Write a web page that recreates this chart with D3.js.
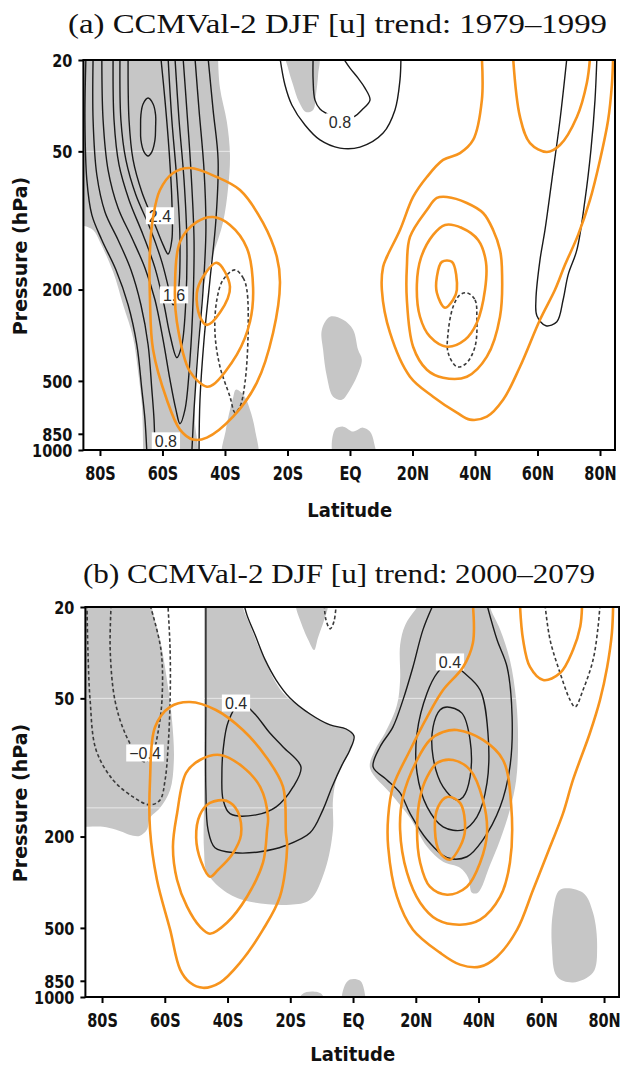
<!DOCTYPE html>
<html>
<head>
<meta charset="utf-8">
<script src="https://cdn.jsdelivr.net/npm/d3@7"></script>
<style>
  body { margin: 0; background: #fff; }
  svg { display: block; }
</style>
</head>
<body>
<svg id="fig" width="620" height="1066"></svg>
<script>
// ---- axes ----
const latTicks = [-80, -60, -40, -20, 0, 20, 40, 60, 80];
const latTickLabels = ["80S", "60S", "40S", "20S", "EQ", "20N", "40N", "60N", "80N"];
const presTicks = [20, 50, 200, 500, 850, 1000];
const latDomain = [-85.3, 84.8];
const presDomain = [20, 1000];

// ---- panel (a) 1979-1999 ----
// shaded areas: trend significant (polygons of [lat, hPa])
const shadeA = [
  [[-88.6,18],[-42.2,18],[-42.2,20],[-41.6,26.5],[-39.4,37.2],[-38.4,51.9],[-39.0,72.2],[-40.6,101.5],[-43.8,141],[-47.0,197],[-48.0,276],[-49.0,385],[-49.6,535],[-49.6,752],[-49.6,1100],[-66.2,1100],[-66.2,975],[-66.6,635],[-67.8,456],[-69.4,324],[-72.6,233],[-75.8,167.5],[-80,124],[-82.2,110],[-85.1,105.6],[-88.6,105.6]],
  [[-36.5,546],[-33.9,580],[-32.0,667],[-30.4,815],[-29.8,1100],[-40.6,1100],[-39.7,815],[-38.4,667],[-37.4,592]],
  [[-20.5,19],[-10.2,19],[-10.2,23.2],[-10.9,28.4],[-11.8,33],[-14.1,33.7],[-16.3,30.5],[-18.2,25.7],[-19.8,21.7]],
  [[-6.4,262.7],[-2.2,270.7],[1.0,299],[2.6,366],[3.8,404],[2.2,479],[0,546],[-2.6,604],[-5.4,586],[-7.4,479],[-8.6,366],[-9.0,299]],
  [[-4.8,815],[-2.2,791],[1.0,831],[4.2,799],[6.4,831],[7.7,930],[8.0,1100],[-4.8,1100]]
];
// [u] trend contours (m/s per decade); negative levels dashed
const trendA = [
  {level: 0.4, pts: [[-84.5,19.6],[-84.8,36.5],[-84.2,66.7],[-82.6,94.6],[-79.4,121.6],[-74.9,164],[-71.0,233],[-68.2,348],[-66.6,546],[-65.6,737],[-65.0,1020]]},
  {level: 0.4, pts: [[-45.4,19.6],[-43.8,33],[-42.2,54.5],[-42.9,99.5],[-44.8,181.4],[-46.7,331],[-48.0,604],[-48.3,1020]]},
  {level: 0.8, pts: [[-82.2,19.6],[-82.2,36.5],[-81.0,63.4],[-78.4,91.8],[-74.2,121.6],[-70.1,164],[-66.9,233],[-64.6,348],[-63.4,546],[-62.7,737],[-62.4,1020]]},
  {level: 0.8, pts: [[-49.6,19.6],[-48.3,33],[-46.7,60.3],[-46.1,110],[-47.0,200.5],[-48.6,366],[-49.9,667],[-50.6,1020]]},
  {level: 1.2, pts: [[-79.4,19.6],[-79.0,36.5],[-77.4,60.3],[-74.2,88.2],[-69.8,119],[-65.6,161],[-62.4,221.6],[-59.8,331],[-57.6,494],[-55.7,667],[-54.4,768],[-52.8,667],[-51.2,404],[-50.2,221.6],[-49.9,121.6],[-50.9,60.3],[-52.2,33],[-53.4,19.6]]},
  {level: 1.6, pts: [[-75.8,19.6],[-75.5,36.5],[-73.9,57.3],[-70.7,81.4],[-66.2,115.6],[-62.4,160.9],[-59.5,233],[-57.6,314.6],[-55.4,396],[-53.8,348],[-52.5,221.6],[-52.2,121.6],[-53.1,66.7],[-54.7,36.5],[-56.0,19.6]]},
  {level: 2.0, pts: [[-73.6,19.6],[-73.3,36.5],[-71.7,54.5],[-68.5,77.5],[-64.0,107.8],[-60.2,151.5],[-57.9,200.5],[-56.6,233],[-55.0,204.6],[-54.4,121.6],[-55.4,66.7],[-57.0,36.5],[-58.2,19.6]]},
  {level: 2.4, pts: [[-71.0,19.6],[-70.7,36.5],[-69.4,54.5],[-66.6,75.2],[-63.0,99.5],[-59.8,127.8],[-58.2,140],[-57.0,121.6],[-57.0,81.4],[-57.9,49.3],[-59.2,29.9],[-60.5,19.6]]},
  {level: 2.8, closed: true, pts: [[-64.6,29.3],[-63.0,31.1],[-62.2,34.7],[-62.2,39.2],[-62.4,44.6],[-63.4,50.3],[-64.6,52.4],[-65.9,50.3],[-66.9,44.6],[-67.0,39.2],[-66.9,34.7],[-66.2,31.1]]},
  {level: 0.4, pts: [[-22.4,19.6],[-20.8,25.7],[-18.6,31.4],[-14.4,38.4],[-9.6,44.6],[-3.2,48.4],[3.2,47.9],[10.6,41.6],[14.4,33],[16.0,24.4],[16.3,19.6]]},
  {level: 0.8, pts: [[-11.8,19.6],[-11.8,24.4],[-11.2,29.9],[-9.6,32.7],[-7.4,34.3],[-3.2,36.8],[1.6,35.1],[3.8,33],[6.4,29.9],[4.8,26.5],[2.6,24.0],[0,21.7],[-2.2,19.6]]},
  {level: 0.4, pts: [[69.4,19.6],[67.2,36.5],[64.6,66.7],[62.4,110],[60.8,148.5],[59.5,221.6],[59.8,260],[62.7,287.5],[66.2,276.2],[68.2,221.6],[69.8,172.6],[72.6,134.4],[75.2,81.4],[77.1,49.3],[78.4,29.9],[79.0,19.6]]},
  {level: -0.4, closed: true, pts: [[-36.8,164.1],[-34.2,177.8],[-33.0,200.5],[-32.6,308.4],[-33.6,509],[-35.2,647.4],[-36.8,687.5],[-38.4,585.7],[-41.6,433.6],[-43.2,308.4],[-42.6,221.6],[-40.6,181.4]]},
  {level: -0.4, closed: true, pts: [[37.4,206.6],[40.0,221.6],[40.6,262.7],[40.0,354.8],[37.1,420.7],[34.2,433.6],[31.4,376.8],[31.4,308.4],[33.0,237.7],[35.2,210.8]]}
];
const labelsA = [
  {level: 2.4, at: [-60.8, 95.4]},
  {level: 1.6, at: [-56.3, 211]},
  {level: 0.8, at: [-58.9, 912]},
  {level: 0.8, at: [-3.2, 37.2]}
];
// climatological jets (orange)
const jetA = [
  {closed: true, pts: [[-42.6,153],[-38.4,194.6],[-41.6,252],[-45.8,285],[-48,263],[-49,207],[-47,176]]},
  {closed: true, pts: [[-43.8,96.6],[-38.4,104.6],[-33.0,131.7],[-31.0,196.6],[-32.0,276.2],[-36.2,384.5],[-43.8,519.4],[-45.8,529.9],[-51.2,455.9],[-55.4,276.2],[-56.0,196.6],[-54.4,124],[-49.0,101.5]]},
  {closed: true, pts: [[-51.2,59.1],[-42.6,64.7],[-35.2,73.7],[-27.8,102.5],[-23.4,144.1],[-22.4,187],[-24.6,308.4],[-29.8,509],[-37.4,715.6],[-45.8,883],[-50.2,901],[-54.4,815],[-58.6,604],[-63.0,366],[-64.0,221.6],[-64.0,134.4],[-63.0,96.6],[-60.8,73.7],[-56.6,62.1]]},
  {closed: true, pts: [[29.4,151.5],[32.6,151.5],[34.2,200.5],[33.0,221.6],[30.4,240.1],[27.8,206.6],[27.8,176.1]]},
  {closed: true, pts: [[30.4,104.6],[35.8,107.8],[41.0,121.6],[43.5,151.5],[43.2,200.5],[40.6,279],[36.8,330.8],[31.0,354.8],[25.6,321],[22.4,262.7],[21.4,190.7],[22.7,145.6],[26.6,115.6]]},
  {closed: true, pts: [[31.0,79],[37.4,83.9],[42.6,92.8],[45.8,110],[48.0,134.4],[48.6,159.3],[48.0,262.7],[43.8,392.2],[37.4,479.4],[29.8,484.2],[24.6,446.9],[20.2,354.8],[18.2,221.6],[18.2,159.3],[19.2,118],[24.6,90],[27.8,79.8]]},
  {closed: false, pts: [[42.2,19.6],[42.2,29.9],[39.4,44.6],[35.2,50.9],[29.8,54.5],[24.6,64.7],[20.2,79],[16.0,110],[11.8,144.1],[10.6,159.3],[10.2,200.5],[12.8,308.4],[19.2,479.4],[26.6,585.7],[34.2,687.5],[38.4,737.4],[43.8,715.6],[49.0,604],[54.4,433.6],[60.8,270.7],[65.6,200.5],[68.8,156.1],[73.0,115.6],[76.8,81.4],[80.0,54.5],[82.6,36.5],[83.8,25.7],[84.2,19.6]]},
  {closed: false, pts: [[52.2,19.6],[54.4,35.4],[57.6,46],[63.0,50.3],[67.2,46.9],[72.6,35.4],[75.8,25.1],[76.8,19.6]]}
];

// ---- panel (b) 2000-2079 ----
const shadeB = [
  [[-88.6,18.1],[-64.1,18.1],[-64.1,20],[-61.5,27.8],[-59.3,41.6],[-57.7,62.1],[-57.1,92.8],[-58.3,125.3],[-61.5,150],[-64.7,166],[-65.7,187],[-67.9,198.5],[-70.1,198.5],[-75.5,187],[-79.7,181.4],[-84.5,181.4],[-88.6,181.4]],
  [[-46.9,18.1],[-35.1,18.1],[-35.1,20],[-32.8,24.0],[-29.6,30.8],[-22.3,47.4],[-13.7,58],[-7.3,65.3],[-2.5,67.3],[0,70.8],[-1.0,83.9],[-5.1,110],[-6.4,138.5],[-6.4,187],[-8.9,279],[-13.7,376.8],[-20.1,396.2],[-32.8,384.5],[-40.2,351],[-46.5,287.5],[-47.5,228.4],[-47.5,138.5],[-47.5,50.9],[-47.5,20],[-47.5,18.1]],
  [[-18.2,18.6],[-8.0,18.6],[-8.0,20],[-9.2,22.8],[-11.2,27.3],[-12.4,30.8],[-14.3,27.8],[-16.9,22.8],[-18.2,20]],
  [[22.9,18.6],[43.7,18.6],[43.7,20],[46.9,25.1],[50.0,34.0],[52.0,50.9],[52.6,75.9],[52.0,113.3],[50.0,153],[46.9,206.6],[43.7,265.3],[39.8,351],[37.9,351],[36.7,302],[34.1,273.4],[28.7,257.5],[23.6,221.6],[18.2,166],[12.4,131.7],[5.4,100.5],[7.0,83.9],[10.2,70.8],[14.0,53.5],[15.0,41.6],[15.0,29.3],[16.6,24],[19.8,20.6]],
  [[66.0,341],[73.3,351],[76.5,429],[77.8,604],[76.5,783],[70.1,865],[65.0,815],[63.4,604],[63.7,429]],
  [[-3.2,1100],[-2.9,909],[-1.0,840],[2.2,848],[3.5,928],[3.5,1100]],
  [[-17.5,1100],[-16.3,975],[-13.1,947],[-9.9,975],[-9.2,1100]]
];
const trendB = [
  {level: 0.2, pts: [[-46.9,19.6],[-46.9,50.9],[-46.9,125.3],[-46.2,187],[-44.0,223.8],[-37.6,235.3],[-29.6,233],[-21.7,219.4],[-13.7,192.7],[-9.6,153],[-6.7,121.6],[-3.5,97.5],[-1.0,83.9],[0.3,72.9],[-2.2,68],[-7.3,65.3],[-13.7,58.5],[-20.1,49.8],[-24.5,41.6],[-28.0,34.0],[-31.2,26.5],[-33.8,21.7],[-34.7,19.6]]},
  {level: 0.4, closed: true, pts: [[-36.0,52.4],[-31.9,57.3],[-26.5,70.8],[-22.3,81.4],[-16.6,99.5],[-19.1,121.6],[-24.5,148.5],[-30.9,160.9],[-39.2,159],[-41.4,138.5],[-41.8,107.8],[-41.4,83.9],[-39.8,63.4]]},
  {level: 0.2, pts: [[25.5,19.6],[22.3,25.1],[19.1,36.5],[15.9,50.9],[12.7,66.7],[8.6,81.4],[6.4,99.5],[10.8,113.3],[15.0,129.1],[18.2,159],[23.6,206.6],[30.0,247.4],[36.3,244.9],[41.4,206.6],[46.9,148.5],[50.0,99.5],[50.7,60.3],[49.1,36.5],[45.9,27.8],[42.7,19.6]]},
  {level: 0.4, closed: true, pts: [[30.9,34.7],[35.1,38.4],[40.5,46],[43.0,70.8],[42.7,116.8],[39.5,164.1],[35.1,187],[28.7,181.4],[23.6,148.5],[20.4,105.6],[20.4,70.8],[23.6,47.4],[26.8,38.8]]},
  {level: 0.6, closed: true, pts: [[30.0,54.5],[34.7,58],[37.3,75.9],[37.3,110],[35.1,134.4],[33.1,138.5],[28.7,121.6],[25.5,90],[25.5,66.7],[27.7,56.2]]},
  {level: -0.2, pts: [[-84.8,19.6],[-84.5,30.8],[-83.8,50.9],[-81.9,83.9],[-76.5,113.3],[-70.1,134.4],[-64.7,145.6],[-61.5,138.5],[-59.9,113.3],[-59.0,83.9],[-58.3,50.9],[-58.3,30.8],[-59.0,19.6]]},
  {level: -0.4, pts: [[-77.1,19.6],[-77.4,30.8],[-75.9,50.9],[-72.7,70.8],[-68.8,88.2],[-66.3,94.6],[-63.7,85.6],[-62.2,70.8],[-60.9,50.9],[-61.2,30.8],[-64.7,19.6]]},
  {level: -0.2, pts: [[-9.2,19.6],[-8.6,22.8],[-7.3,24.9],[-6.1,23.2],[-5.4,19.6]]},
  {level: -0.2, pts: [[61.2,19.6],[62.8,27.8],[66.0,38.8],[69.2,50.9],[70.8,54.5],[73.3,46],[76.5,34.0],[78.1,24.4],[78.7,19.6]]}
];
const labelsB = [
  {level: 0.4, at: [-37.3, 52.4]},
  {level: 0.4, at: [30.9, 34.7]},
  {level: -0.4, at: [-66.3, 86.5]}
];
const jetB = [
  {closed: true, pts: [[-45.6,142.7],[-40.2,139.9],[-36.7,156.1],[-35.7,196.6],[-38.6,240.1],[-43.0,279],[-45.6,299.2],[-48.4,257.5],[-50.0,202.5],[-48.8,160.9]]},
  {closed: true, pts: [[-42.4,88.2],[-35.1,99.5],[-29.6,121.6],[-27.1,164.1],[-27.4,187],[-28.7,260],[-33.8,365.7],[-40.2,474.6],[-45.6,529.9],[-48.8,494],[-52.9,404.2],[-56.1,308.4],[-57.4,221.6],[-56.1,159],[-53.2,105.6],[-48.8,92.8]]},
  {closed: true, pts: [[-52.0,51.9],[-43.7,56.2],[-35.1,68.7],[-27.7,90],[-22.3,121.6],[-21.4,192.7],[-21.0,221.6],[-23.3,365.7],[-28.7,509],[-36.0,708.5],[-42.4,865],[-47.8,912],[-52.0,865],[-55.1,759.8],[-58.3,509],[-62.5,308.4],[-64.7,187],[-64.7,113.3],[-63.1,66.7],[-58.3,54.5]]},
  {closed: true, pts: [[30.0,134.4],[34.1,142.7],[35.7,187],[34.1,221.6],[30.9,252.4],[27.7,235.3],[26.1,187],[27.1,148.5]]},
  {closed: true, pts: [[31.9,92.8],[37.3,102.5],[41.4,138.5],[42.7,192.7],[40.5,260],[36.3,330.8],[30.0,358.4],[24.5,330.8],[21.4,260],[20.4,187],[21.4,134.4],[23.6,110],[26.8,95.6]]},
  {closed: true, pts: [[33.1,68.7],[41.4,75.9],[47.8,92.8],[50.4,145.6],[50.0,260],[46.9,365.7],[40.5,460.5],[34.1,484.2],[26.8,460.5],[21.4,388.4],[17.2,287.5],[15.0,187],[15.9,134.4],[20.4,92.8],[24.5,75.9],[28.7,70.1]]},
  {closed: false, pts: [[38.2,19.6],[38.2,28.7],[35.1,36.5],[28.7,46],[23.6,60.3],[18.2,83.9],[12.7,121.6],[11.2,164.1],[11.2,221.6],[14.0,365.7],[19.1,509],[27.7,641],[34.1,722.8],[40.5,737.4],[45.9,667.2],[52.3,509],[57.4,341],[62.8,221.6],[66.9,159],[70.1,113.3],[75.5,70.8],[78.7,50.9],[81.0,36.5],[82.5,26.0],[82.9,19.6]]},
  {closed: false, pts: [[53.2,19.6],[54.2,27.8],[56.4,36.5],[60.6,41.6],[66.0,38.8],[70.1,30.8],[72.4,24.4],[73.0,19.6]]}
];

// faint scan streaks across the shading (hPa)
const streaksA = [50];
const streaksB = [50, 150];

const titles = ["(a) CCMVal-2 DJF [u] trend: 1979\u20131999", "(b) CCMVal-2 DJF [u] trend: 2000\u20132079"];

// ---- layout ----
const panels = [
  {key: "a", title: titles[0], x0: 83.4, x1: 615, y0: 60, y1: 450, tx: 68, tw: 539, ty: 33,
   latY: 517, shade: shadeA, trend: trendA, labels: labelsA, jet: jetA, streaks: streaksA},
  {key: "b", title: titles[1], x0: 85.4, x1: 619.1, y0: 607, y1: 997, tx: 83, tw: 512, ty: 583,
   latY: 1061, shade: shadeB, trend: trendB, labels: labelsB, jet: jetB, streaks: streaksB}
];

const svg = d3.select("#fig");
const fmt = d3.format(".1f");
const TICK_FONT = "DejaVu Sans, Verdana, sans-serif";

function drawPanel(p) {
  const x = d3.scaleLinear().domain(latDomain).range([p.x0, p.x1]);
  const y = d3.scaleLog().domain(presDomain).range([p.y0, p.y1]);
  const g = svg.append("g").attr("class", "panel-" + p.key);

  const clipId = "clip-" + p.key;
  g.append("clipPath").attr("id", clipId).append("rect")
    .attr("x", p.x0).attr("y", p.y0).attr("width", p.x1 - p.x0).attr("height", p.y1 - p.y0);

  const lineOpen = d3.line().x(d => x(d[0])).y(d => y(d[1])).curve(d3.curveCatmullRom.alpha(0.5));
  const lineClosed = d3.line().x(d => x(d[0])).y(d => y(d[1])).curve(d3.curveCatmullRomClosed.alpha(0.5));

  // significance shading
  const shadeLayer = g.append("g").attr("clip-path", `url(#${clipId})`);
  shadeLayer.selectAll("path").data(p.shade).join("path")
    .attr("d", lineClosed).attr("fill", "#c6c6c6").attr("stroke", "none");
  shadeLayer.selectAll("line").data(p.streaks).join("line")
    .attr("x1", p.x0).attr("x2", p.x1).attr("y1", d => y(d)).attr("y2", d => y(d))
    .attr("stroke", "#fff").attr("stroke-opacity", 0.6).attr("stroke-width", 1);

  // trend contours
  const trendLayer = g.append("g").attr("clip-path", `url(#${clipId})`);
  trendLayer.selectAll("path").data(p.trend).join("path")
    .attr("d", d => (d.closed ? lineClosed : lineOpen)(d.pts))
    .attr("fill", "none")
    .attr("stroke", d => d.level < 0 ? "#3a3a3a" : "#1a1a1a")
    .attr("stroke-width", d => d.level < 0 ? 1.6 : 1.4)
    .attr("stroke-dasharray", d => d.level < 0 ? "3.5,2.5" : null)
    .attr("stroke-linejoin", "round");

  // contour labels
  const labLayer = g.append("g");
  labLayer.selectAll("g").data(p.labels).join("g")
    .attr("transform", d => `translate(${x(d.at[0])},${y(d.at[1])})`)
    .each(function(d) {
      const s = d3.select(this);
      const t = s.append("text").text(fmt(d.level))
        .attr("text-anchor", "middle").attr("dy", "0.36em")
        .attr("font-family", "Liberation Sans, Arial, sans-serif")
        .attr("font-size", 16).attr("fill", "#2a2a2a");
      const w = t.node().getComputedTextLength();
      s.insert("rect", "text").attr("x", -w / 2 - 3).attr("y", -8.5)
        .attr("width", w + 6).attr("height", 17).attr("fill", "#fff");
    });

  // climatological jets
  const jetLayer = g.append("g").attr("clip-path", `url(#${clipId})`);
  jetLayer.selectAll("path").data(p.jet).join("path")
    .attr("d", d => (d.closed ? lineClosed : lineOpen)(d.pts))
    .attr("fill", "none").attr("stroke", "#f7941d").attr("stroke-width", 2.6)
    .attr("stroke-linejoin", "round").attr("stroke-linecap", "round");

  // frame
  g.append("rect").attr("x", p.x0).attr("y", p.y0)
    .attr("width", p.x1 - p.x0).attr("height", p.y1 - p.y0)
    .attr("fill", "none").attr("stroke", "#000").attr("stroke-width", 2);

  // latitude axis
  const ax = g.append("g").attr("transform", `translate(0,${p.y1})`)
    .call(d3.axisBottom(x).tickValues(latTicks).tickFormat((d, i) => latTickLabels[i]).tickSize(6));
  ax.select(".domain").remove();
  ax.selectAll("line").attr("stroke", "#000").attr("stroke-width", 2);
  ax.selectAll("text")
    .attr("font-family", TICK_FONT).attr("font-weight", "bold").attr("font-size", 14.5)
    .attr("fill", "#111").attr("dy", null).attr("y", 30 / 1.3)
    .attr("transform", "scale(1,1.3)");

  // pressure axis
  const ay = g.append("g").attr("transform", `translate(${p.x0},0)`)
    .call(d3.axisLeft(y).tickValues(presTicks).tickFormat(d3.format("d")).tickSize(5));
  ay.select(".domain").remove();
  ay.selectAll("line").attr("stroke", "#000").attr("stroke-width", 2);
  ay.selectAll("text")
    .attr("font-family", TICK_FONT).attr("font-weight", "bold").attr("font-size", 14.5)
    .attr("fill", "#111").attr("x", -11).attr("dy", "0.36em")
    .attr("transform", "scale(1,1.2)");

  // axis titles
  g.append("text")
    .attr("transform", `translate(${(p.x0 + p.x1) / 2 + 0.5},${p.latY}) scale(1,1.1)`)
    .attr("text-anchor", "middle").attr("font-family", TICK_FONT).attr("font-weight", "bold")
    .attr("font-size", 18).attr("fill", "#111").text("Latitude");
  g.append("text")
    .attr("transform", `translate(27,${(p.y0 + p.y1) / 2 + 1}) rotate(-90)`)
    .attr("text-anchor", "middle").attr("font-family", TICK_FONT).attr("font-weight", "bold")
    .attr("font-size", 19).attr("fill", "#111").text("Pressure (hPa)");

  // panel title
  g.append("text").attr("x", p.tx).attr("y", p.ty)
    .attr("textLength", p.tw).attr("lengthAdjust", "spacingAndGlyphs")
    .attr("font-family", "Liberation Serif, Times New Roman, serif")
    .attr("font-size", 27).attr("fill", "#111").text(p.title);
}

panels.forEach(drawPanel);
</script>
</body>
</html>
